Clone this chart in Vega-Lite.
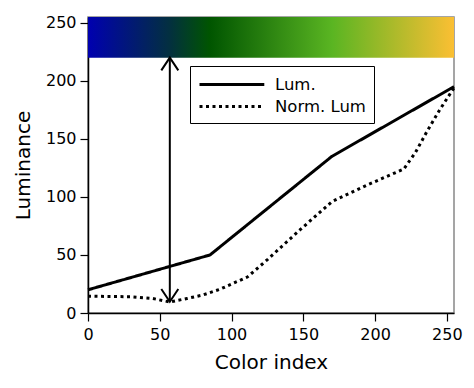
{
  "$schema": "https://vega.github.io/schema/vega-lite/v6.json",
  "width": 366,
  "height": 296,
  "autosize": {"type": "none"},
  "padding": {"left": 88, "top": 17, "right": 20, "bottom": 75},
  "background": "white",
  "config": {
    "font": "DejaVu Sans",
    "view": {"stroke": "#888888", "strokeWidth": 1.5},
    "axis": {
      "grid": false,
      "labelFlush": false,
      "domainColor": "black",
      "domainWidth": 1.5,
      "tickColor": "black",
      "tickSize": 8,
      "tickWidth": 1.2,
      "labelFont": "DejaVu Sans",
      "labelFontSize": 16,
      "labelColor": "black",
      "titleFont": "DejaVu Sans",
      "titleFontSize": 20,
      "titleFontWeight": "normal",
      "titleColor": "black"
    },
    "legend": {
      "labelFont": "DejaVu Sans",
      "labelFontSize": 16.5,
      "labelColor": "black"
    }
  },
  "encoding": {
    "x": {
      "field": "x",
      "type": "quantitative",
      "scale": {"domain": [0, 255], "nice": false, "zero": false},
      "axis": {"title": "Color index", "values": [0, 50, 100, 150, 200, 250], "labelPadding": 5, "titlePadding": 10}
    },
    "y": {
      "field": "y",
      "type": "quantitative",
      "scale": {"domain": [0, 255], "nice": false, "zero": false},
      "axis": {"title": "Luminance", "values": [0, 50, 100, 150, 200, 250], "labelPadding": 4, "titlePadding": 12}
    }
  },
  "layer": [
    {
      "data": {"values": [{"x": 0, "x2": 255, "y": 220, "y2": 255}]},
      "mark": {
        "type": "rect",
        "fill": {
          "gradient": "linear",
          "x1": 0, "y1": 0, "x2": 1, "y2": 0,
          "stops": [
            {"offset": 0, "color": "#0000b0"},
            {"offset": 0.224, "color": "#03303f"},
            {"offset": 0.333, "color": "#005500"},
            {"offset": 0.667, "color": "#5ab522"},
            {"offset": 1, "color": "#fbbf33"}
          ]
        }
      },
      "encoding": {
        "x2": {"field": "x2"},
        "y2": {"field": "y2"}
      }
    },
    {
      "data": {
        "values": [
          {"series": "Lum.", "x": 0, "y": 20},
          {"series": "Lum.", "x": 85, "y": 50},
          {"series": "Lum.", "x": 170, "y": 135},
          {"series": "Lum.", "x": 255, "y": 195},
          {"series": "Norm. Lum", "x": 0, "y": 14.5},
          {"series": "Norm. Lum", "x": 30, "y": 14},
          {"series": "Norm. Lum", "x": 45, "y": 12.5},
          {"series": "Norm. Lum", "x": 57, "y": 9.5},
          {"series": "Norm. Lum", "x": 69, "y": 12.5},
          {"series": "Norm. Lum", "x": 80, "y": 15.5},
          {"series": "Norm. Lum", "x": 92, "y": 20.5},
          {"series": "Norm. Lum", "x": 101, "y": 25.5},
          {"series": "Norm. Lum", "x": 111, "y": 31},
          {"series": "Norm. Lum", "x": 125, "y": 46},
          {"series": "Norm. Lum", "x": 148, "y": 72},
          {"series": "Norm. Lum", "x": 170, "y": 96},
          {"series": "Norm. Lum", "x": 194, "y": 110},
          {"series": "Norm. Lum", "x": 220, "y": 124},
          {"series": "Norm. Lum", "x": 228, "y": 138},
          {"series": "Norm. Lum", "x": 236, "y": 156},
          {"series": "Norm. Lum", "x": 245, "y": 175},
          {"series": "Norm. Lum", "x": 255, "y": 194}
        ]
      },
      "mark": {"type": "line", "color": "black", "strokeWidth": 3},
      "encoding": {
        "strokeDash": {
          "field": "series",
          "type": "nominal",
          "scale": {"domain": ["Lum.", "Norm. Lum"], "range": [[1, 0], [3, 3.5]]},
          "legend": {
            "title": null,
            "orient": "none",
            "legendX": 102,
            "legendY": 49,
            "strokeColor": "black",
            "fillColor": "white",
            "padding": 8,
            "symbolType": "M-1,0L6.2,0",
            "symbolSize": 324,
            "symbolStrokeWidth": 3,
            "symbolStrokeColor": "black",
            "labelOffset": 56,
            "rowPadding": 3
          }
        }
      }
    },
    {
      "data": {"values": [{"x": 57, "y": 9.7, "y2": 220}]},
      "mark": {"type": "rule", "color": "black", "strokeWidth": 2},
      "encoding": {"y2": {"field": "y2"}}
    },
    {
      "data": {"values": [{"x": 57, "y": 220}]},
      "mark": {"type": "point", "shape": "M-1,1.5L0,0L1,1.5", "size": 289, "filled": false, "stroke": "black", "strokeWidth": 2, "opacity": 1}
    },
    {
      "data": {"values": [{"x": 57, "y": 9.7}]},
      "mark": {"type": "point", "shape": "M-1,-1.5L0,0L1,-1.5", "size": 289, "filled": false, "stroke": "black", "strokeWidth": 2, "opacity": 1}
    }
  ]
}
